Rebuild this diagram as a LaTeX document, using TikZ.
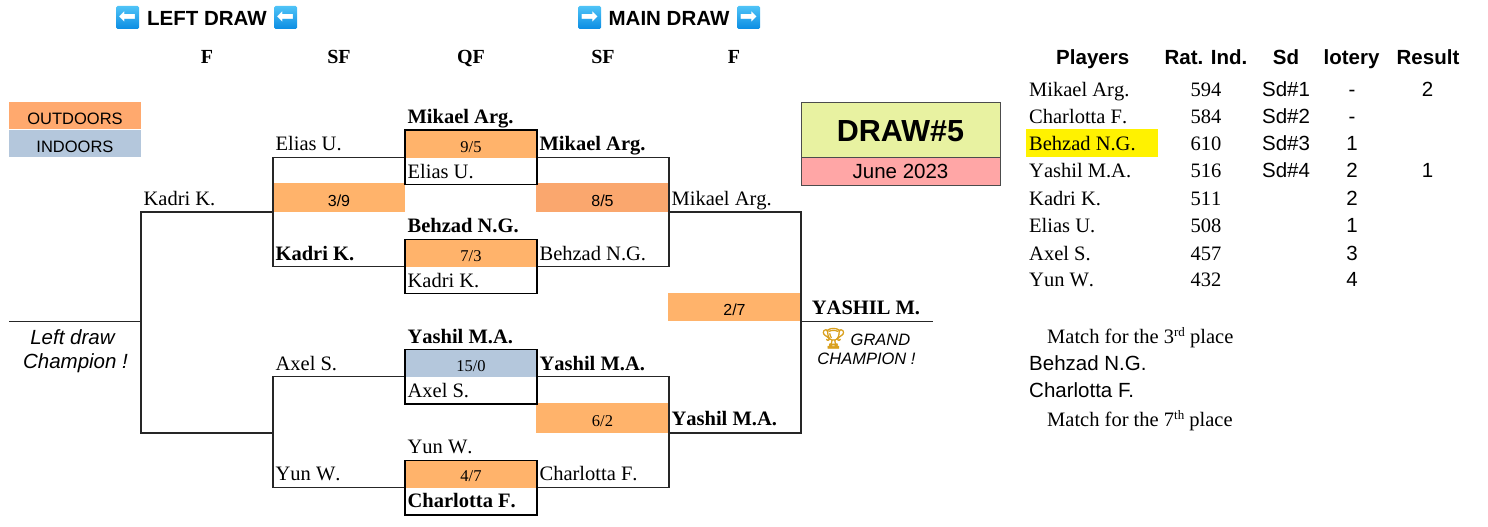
\documentclass[tikz,border=0pt]{standalone}
\usepackage{fontspec}
\usepackage{tikz}
\setmainfont[Kerning=Off]{Liberation Serif}
\setsansfont{Liberation Sans}
\newfontfamily\trophyfont[AutoFakeBold=2]{Noto Emoji}
\newfontfamily\arrowfont{DejaVu Sans}
\newcommand{\supsmall}[1]{\raisebox{7pt}{\fontsize{13}{13}\selectfont #1}}

\definecolor{outdoorcol}{HTML}{FFB36B}
\definecolor{clay}{HTML}{FAA76E}
\definecolor{legendcol}{HTML}{FFA96E}
\definecolor{indoorcol}{HTML}{B4C7DC}
\definecolor{titlecol}{HTML}{E8F2A1}
\definecolor{datecol}{HTML}{FFA6A6}
\definecolor{arrowtop}{HTML}{4FC3F7}
\definecolor{arrowbot}{HTML}{0B8DE3}
\definecolor{trophy}{HTML}{D9A01E}

\tikzset{
  player/.style={anchor=base west, inner sep=0pt, font=\fontsize{20.5}{24}\selectfont},
  winner/.style={player, font=\fontsize{20.5}{24}\selectfont\bfseries},
  round/.style={anchor=base, inner sep=0pt, font=\fontsize{20}{24}\selectfont\bfseries},
  score/.style={anchor=base, inner sep=0pt, minimum width=132pt, font=\fontsize{16.5}{20}\selectfont, text height=22pt, text depth=5.5pt, fill=outdoorcol},
  sansscore/.style={score, font=\fontsize{16}{20}\sffamily\selectfont},
  qfbox/.style={draw=black, line width=1.4pt, inner sep=0pt, minimum width=132pt, minimum height=54.5pt},
  bracket/.style={draw=black!85, line width=1.1pt},
  legend/.style={anchor=base, inner sep=0pt, minimum width=132pt, font=\fontsize{16.5}{20}\sffamily\selectfont, text height=22pt, text depth=5pt},
  head/.style={anchor=base, inner sep=0pt, font=\fontsize{20.5}{24}\sffamily\bfseries\selectfont},
  cell/.style={anchor=base, inner sep=0pt, font=\fontsize{20.5}{24}\selectfont},
  sanscell/.style={anchor=base, inner sep=0pt, font=\fontsize{20.5}{24}\sffamily\selectfont},
  arrowsq/.style={rounded corners=1.5pt, inner sep=0pt, minimum size=23pt, top color=arrowtop, bottom color=arrowbot, text=white, font=\fontsize{21}{22}\arrowfont\selectfont},
}

\begin{document}
\begin{tikzpicture}[x=1pt, y=1pt]
\useasboundingbox (0,0) rectangle (1488,-527);

% titles
\node[arrowsq] (leftarrowa) at (127.5,-17.5) {⬅};
\node[head] (lefttitle) at (207,-25.8) {LEFT DRAW};
\node[arrowsq] (leftarrowb) at (285.5,-17.5) {⬅};
\node[arrowsq] (mainarrowa) at (589.5,-17.5) {➡};
\node[head] (maintitle) at (669,-25.8) {MAIN DRAW};
\node[arrowsq] (mainarrowb) at (748.5,-17.5) {➡};

% rounds
\node[round] (roundf) at (207,-63.7) {F};
\node[round] (roundsf) at (339,-63.7) {SF};
\node[round] (roundqf) at (471,-63.7) {QF};
\node[round] (roundsfb) at (603,-63.7) {SF};
\node[round] (roundfb) at (734,-63.7) {F};

% legend
\node[legend, fill=legendcol] (outdoors) at (75,-124) {OUTDOORS};
\node[legend, fill=indoorcol] (indoors) at (75,-152) {INDOORS};

% draw title
\node[anchor=base, draw=black!70, line width=1pt, fill=titlecol, inner sep=0pt, minimum width=199pt, text height=39pt, text depth=16pt, font=\fontsize{30.5}{34}\sffamily\bfseries\selectfont] (drawno) at (900.5,-141) {DRAW\#5};
\node[anchor=base, draw=black!70, line width=1pt, fill=datecol, inner sep=0pt, minimum width=199pt, text height=21pt, text depth=7pt, font=\fontsize{20.5}{24}\sffamily\selectfont] (drawdate) at (900.5,-178) {June 2023};

% scores
\node[score] (scorea) at (471,-152) {9/5};
\node[score] (scoreb) at (471,-261.5) {7/3};
\node[score, fill=indoorcol, text height=21.7pt, text depth=6pt] (scorec) at (471,-371) {15/0};
\node[score, text height=21.7pt, text depth=6pt] (scored) at (471,-481.7) {4/7};
\node[sansscore, text height=23pt, text depth=6pt] (scoree) at (339,-206) {3/9};
\node[sansscore, fill=clay, minimum width=133pt, text height=23pt, text depth=6pt] (scoref) at (602.5,-206) {8/5};
\node[sansscore, minimum width=133pt, text height=22pt, text depth=6.3pt] (scoreg) at (734.5,-315) {2/7};
\node[score, minimum width=133pt, text height=23.7pt, text depth=6.3pt] (scoreh) at (602.5,-426.7) {6/2};

% quarter final boxes
\node[qfbox] (qfa) at (471,-157.3) {};
\node[qfbox] (qfb) at (471,-266.5) {};
\node[qfbox] (qfc) at (471,-376.8) {};
\node[qfbox] (qfd) at (471,-487.6) {};

% bracket corners
\coordinate (lsfa) at (273,-157.3);
\coordinate (lsfb) at (273,-266.5);
\coordinate (lsfc) at (273,-376.8);
\coordinate (lsfd) at (273,-487.6);
\coordinate (lmida) at (273,-212);
\coordinate (lmidb) at (273,-433);
\coordinate (lfa) at (141,-212);
\coordinate (lfb) at (141,-433);
\coordinate (lchamp) at (141,-321.3);
\coordinate (lend) at (9,-321.3);
\coordinate (rsfa) at (669,-157.3);
\coordinate (rsfb) at (669,-266.5);
\coordinate (rsfc) at (669,-376.8);
\coordinate (rsfd) at (669,-487.6);
\coordinate (rmida) at (669,-212);
\coordinate (rmidb) at (669,-433);
\coordinate (rfa) at (801,-212);
\coordinate (rfb) at (801,-433);
\coordinate (rchamp) at (801,-321.3);
\coordinate (rend) at (933,-321.3);

\draw[bracket] (qfa.west) -- (lsfa) -- (lsfb) -- (qfb.west);
\draw[bracket] (qfc.west) -- (lsfc) -- (lsfd) -- (qfd.west);
\draw[bracket] (lmida) -- (lfa) -- (lfb) -- (lmidb);
\draw[bracket] (lchamp) -- (lend);
\draw[bracket] (qfa.east) -- (rsfa) -- (rsfb) -- (qfb.east);
\draw[bracket] (qfc.east) -- (rsfc) -- (rsfd) -- (qfd.east);
\draw[bracket] (rmida) -- (rfa) -- (rfb) -- (rmidb);
\draw[bracket] (rchamp) -- (rend);

% quarter final players
\node[winner] (mikaelqf) at (407.4,-123) {Mikael Arg.};
\node[player] (eliasqf) at (407.4,-178) {Elias U.};
\node[winner] (behzadqf) at (407.4,-232) {Behzad N.G.};
\node[player] (kadriqf) at (407.4,-287) {Kadri K.};
\node[winner] (yashilqf) at (407.4,-343) {Yashil M.A.};
\node[player] (axelqf) at (407.4,-397) {Axel S.};
\node[player] (yunqf) at (407.4,-453) {Yun W.};
\node[winner] (charlottaqf) at (407.4,-507) {Charlotta F.};

% left draw
\node[player] (eliassf) at (275.4,-150) {Elias U.};
\node[winner] (kadrisf) at (275.4,-260) {Kadri K.};
\node[player] (axelsf) at (275.4,-370) {Axel S.};
\node[player] (yunsf) at (275.4,-480.6) {Yun W.};
\node[player] (kadrif) at (143.4,-205) {Kadri K.};
\node[anchor=base, inner sep=0pt, font=\fontsize{20.5}{24}\sffamily\itshape\selectfont] (leftchampa) at (72.5,-344) {Left draw};
\node[anchor=base, inner sep=0pt, font=\fontsize{20.5}{24}\sffamily\itshape\selectfont] (leftchampb) at (75.5,-368.4) {Champion !};

% main draw
\node[winner] (mikaelsf) at (539.4,-150) {Mikael Arg.};
\node[player] (behzadsf) at (539.4,-260) {Behzad N.G.};
\node[winner] (yashilsf) at (539.4,-370) {Yashil M.A.};
\node[player] (charlottasf) at (539.4,-480.6) {Charlotta F.};
\node[player] (mikaelf) at (671.4,-205) {Mikael Arg.};
\node[winner] (yashilf) at (671.4,-425) {Yashil M.A.};
\node[anchor=base, inner sep=0pt, font=\fontsize{20.5}{24}\selectfont\bfseries] (champion) at (866,-314) {YASHIL M.};
\node[anchor=base, inner sep=0pt, font=\fontsize{16.5}{20}\sffamily\itshape\selectfont] (grandchampa) at (865.5,-345) {{\trophyfont\bfseries\fontsize{20}{20}\selectfont\color{trophy}🏆} GRAND};
\node[anchor=base, inner sep=0pt, font=\fontsize{16.5}{20}\sffamily\itshape\selectfont] (grandchampb) at (866.5,-364) {CHAMPION !};

% players table
\node[fill=yellow, inner sep=0pt, minimum width=132pt, minimum height=28pt] (highlight) at (1092,-143) {};
\node[head] (headplayers) at (1092.7,-64.2) {Players};
\node[head] (headrating) at (1206,-64.2) {Rat. Ind.};
\node[head] (headseed) at (1286,-64.2) {Sd};
\node[head] (headlot) at (1351.5,-64.2) {lotery};
\node[head] (headresult) at (1428,-64.2) {Result};

\node[player] (taba) at (1029,-96) {Mikael Arg.};
\node[player] (tabb) at (1029,-123) {Charlotta F.};
\node[player] (tabc) at (1029,-150) {Behzad N.G.};
\node[player] (tabd) at (1029,-177.7) {Yashil M.A.};
\node[player] (tabe) at (1029,-205) {Kadri K.};
\node[player] (tabf) at (1029,-232) {Elias U.};
\node[player] (tabg) at (1029,-260) {Axel S.};
\node[player] (tabh) at (1029,-286.7) {Yun W.};

\node[cell] (rata) at (1206,-96) {594};
\node[cell] (ratb) at (1206,-123) {584};
\node[cell] (ratc) at (1206,-150) {610};
\node[cell] (ratd) at (1206,-177.7) {516};
\node[cell] (rate) at (1206,-205) {511};
\node[cell] (ratf) at (1206,-232) {508};
\node[cell] (ratg) at (1206,-260) {457};
\node[cell] (rath) at (1206,-286.7) {432};

\node[sanscell] (sda) at (1286,-96) {Sd\#1};
\node[sanscell] (sdb) at (1286,-123) {Sd\#2};
\node[sanscell] (sdc) at (1286,-150) {Sd\#3};
\node[sanscell] (sdd) at (1286,-177.7) {Sd\#4};

\node[sanscell] (lota) at (1352,-96) {-};
\node[sanscell] (lotb) at (1352,-123) {-};
\node[sanscell] (lotc) at (1352,-150) {1};
\node[sanscell] (lotd) at (1352,-177.7) {2};
\node[sanscell] (lote) at (1352,-205) {2};
\node[sanscell] (lotf) at (1352,-232) {1};
\node[sanscell] (lotg) at (1352,-260) {3};
\node[sanscell] (loth) at (1352,-286.7) {4};

\node[sanscell] (resa) at (1427.5,-96) {2};
\node[sanscell] (resd) at (1427.5,-177.7) {1};

% placement matches
\node[player] (matcha) at (1047,-343) {Match for the 3\supsmall{rd} place};
\node[player, font=\fontsize{20.5}{24}\sffamily\selectfont] (matchb) at (1029,-370) {Behzad N.G.};
\node[player, font=\fontsize{20.5}{24}\sffamily\selectfont] (matchc) at (1029,-397.4) {Charlotta F.};
\node[player] (matchd) at (1047,-426.5) {Match for the 7\supsmall{th} place};
\end{tikzpicture}
\end{document}
